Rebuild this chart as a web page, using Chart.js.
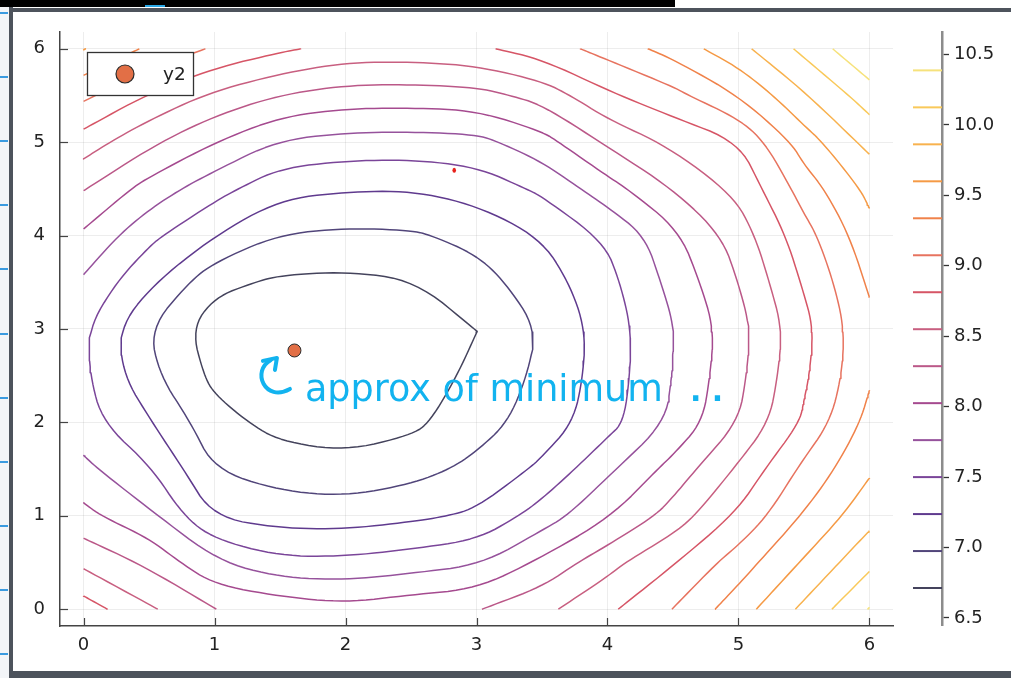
<!DOCTYPE html>
<html><head><meta charset="utf-8">
<script src="https://cdn.jsdelivr.net/npm/chart.js@4.4.1/dist/chart.umd.min.js"></script>
<style>
html,body{margin:0;padding:0;background:#fff;}
body{width:1011px;height:678px;position:relative;overflow:hidden;font-family:"DejaVu Sans",sans-serif;}
#c1{position:absolute;left:0;top:0;}
#c2{position:absolute;left:905px;top:0;}
.d{position:absolute;}
</style></head><body>
<canvas id="c1" width="905" height="678" style="width:905px;height:678px"></canvas>
<canvas id="c2" width="106" height="678" style="width:106px;height:678px"></canvas>
<div class="d" style="left:0;top:0;width:675px;height:7px;background:#000"></div>
<div class="d" style="left:145px;top:5px;width:20px;height:2px;background:#2aa8e6"></div>
<div class="d" style="left:9px;top:8px;width:1002px;height:4px;background:#4d535c"></div>
<div class="d" style="left:9px;top:7px;width:4px;height:671px;background:#4d535c"></div>
<div class="d" style="left:9px;top:671px;width:1002px;height:7px;background:#4d535c"></div>
<div class="d" style="left:0;top:7px;width:9px;height:671px;background:#f3f5f8"></div>
<div id="ticksL"></div>
<script>
// ---- data ----
const xVals = [0, 0.5, 1, 1.5, 2, 2.5, 3, 3.5, 4, 4.5, 5, 5.5, 6];
const yVals = [0, 0.5, 1, 1.5, 2, 2.5, 3, 3.5, 4, 4.5, 5, 5.5, 6];
// z values along each row y = const (x = 0 ... 6)
const z_y00 = [8.94, 8.59, 8.29, 8.20, 8.10, 8.20, 8.27, 8.48, 8.76, 9.08, 9.48, 9.92, 10.40];
const z_y05 = [8.49, 8.24, 7.79, 7.56, 7.56, 7.63, 7.71, 8.08, 8.46, 8.79, 9.21, 9.63, 10.06];
const z_y10 = [8.10, 7.82, 7.21, 7.12, 7.11, 7.18, 7.28, 7.62, 7.99, 8.40, 8.85, 9.36, 9.77];
const z_y15 = [7.83, 7.53, 6.97, 6.85, 6.79, 6.88, 7.04, 7.29, 7.71, 8.12, 8.59, 9.14, 9.56];
const z_y20 = [7.60, 7.26, 6.81, 6.62, 6.59, 6.65, 6.87, 7.09, 7.40, 7.81, 8.29, 8.85, 9.42];
const z_y25 = [7.55, 7.04, 6.65, 6.50, 6.50, 6.53, 6.79, 7.03, 7.36, 7.77, 8.22, 8.77, 9.30];
const z_y30 = [7.54, 6.98, 6.57, 6.51, 6.52, 6.54, 6.70, 7.00, 7.36, 7.75, 8.19, 8.73, 9.29];
const z_y35 = [7.72, 7.28, 6.78, 6.67, 6.65, 6.69, 6.87, 7.11, 7.42, 7.84, 8.29, 8.84, 9.36];
const z_y40 = [7.98, 7.57, 7.24, 6.96, 6.92, 6.94, 7.05, 7.25, 7.53, 7.94, 8.41, 8.97, 9.50];
const z_y45 = [8.30, 7.92, 7.60, 7.32, 7.26, 7.25, 7.34, 7.55, 7.91, 8.29, 8.60, 9.19, 9.67];
const z_y50 = [8.69, 8.34, 8.03, 7.73, 7.66, 7.65, 7.68, 7.92, 8.33, 8.60, 8.81, 9.47, 9.93];
const z_y55 = [9.13, 8.79, 8.49, 8.28, 8.17, 8.16, 8.19, 8.38, 8.77, 8.99, 9.34, 9.83, 10.26];
const z_y60 = [9.61, 9.29, 9.04, 8.86, 8.71, 8.70, 8.76, 8.94, 9.17, 9.44, 9.78, 10.19, 10.64];
const zGrid = [z_y00, z_y05, z_y10, z_y15, z_y20, z_y25, z_y30, z_y35, z_y40, z_y45, z_y50, z_y55, z_y60];
const levels = [6.7125, 6.975, 7.2375, 7.5, 7.7625, 8.025, 8.2875, 8.55, 8.8125, 9.075, 9.3375, 9.6, 9.8625, 10.125, 10.3875];
const levelColors = ['#44435c','#51457a','#5f3a8e','#7a4599','#96529c','#a54a8f','#bb5888','#c85f80',
                     '#d65566','#e7735f','#f0824a','#f59a45','#f8b24e','#f9c95a','#f6e27c'];
const xTicks = [0, 1, 2, 3, 4, 5, 6];
const yTicks = [0, 1, 2, 3, 4, 5, 6];
const cbTicks = [6.5, 7.0, 7.5, 8.0, 8.5, 9.0, 9.5, 10.0, 10.5];
const cbRange = [6.45, 10.66];
const seriesName = 'y2';
const minPoint = [{x: 1.61, y: 2.77}];
const strayDot = {x: 2.83, y: 4.70};
const noteText = 'approx of minimum';
const noteDots = '. .';
const noteAnchor = {x: 1.69, y: 2.23};

// ---- decorative left ticks of the window frame ----
(function(){
  const host = document.getElementById('ticksL');
  [12, 76, 140, 204, 268, 333, 397, 461, 525, 589, 653].forEach(t=>{
    const d=document.createElement('div'); d.className='d';
    d.style.cssText='left:0;top:'+t+'px;width:8px;height:1.5px;background:#3b9be0';
    host.appendChild(d);
  });
})();

const SX=131, SY=93.3; // approx px per unit, used only for geometric smoothing decisions

// ---- contour extraction (marching squares on the grid above) ----
function contourLines(level){
  const pts = new Map(); const segs = [];
  const ep = (key, xa, ya, za, xb, yb, zb) => {
    if(!pts.has(key)){ const t=(level-za)/(zb-za); pts.set(key,{x:xa+t*(xb-xa), y:ya+t*(yb-ya)}); }
    return key;
  };
  for(let j=0;j<yVals.length-1;j++){
    for(let i=0;i<xVals.length-1;i++){
      const x0=xVals[i], x1=xVals[i+1], y0=yVals[j], y1=yVals[j+1];
      const a=zGrid[j][i], b=zGrid[j][i+1], c=zGrid[j+1][i+1], d=zGrid[j+1][i];
      const A=a>level, B=b>level, C=c>level, D=d>level;
      const e={};
      if(A!==B) e.b=ep('h'+i+'_'+j, x0,y0,a, x1,y0,b);
      if(B!==C) e.r=ep('v'+(i+1)+'_'+j, x1,y0,b, x1,y1,c);
      if(D!==C) e.t=ep('h'+i+'_'+(j+1), x0,y1,d, x1,y1,c);
      if(A!==D) e.l=ep('v'+i+'_'+j, x0,y0,a, x0,y1,d);
      const ks=Object.keys(e);
      if(ks.length===2) segs.push([e[ks[0]], e[ks[1]]]);
      else if(ks.length===4){
        const cen=(a+b+c+d)/4>level;
        if(cen===A){ segs.push([e.b,e.r]); segs.push([e.t,e.l]); }
        else { segs.push([e.l,e.b]); segs.push([e.r,e.t]); }
      }
    }
  }
  const adj=new Map();
  segs.forEach((s,idx)=>s.forEach(k=>{ if(!adj.has(k)) adj.set(k,[]); adj.get(k).push(idx); }));
  const used=new Array(segs.length).fill(false);
  const walk=(start)=>{
    const line=[start]; let cur=start;
    for(;;){
      const cand=(adj.get(cur)||[]).find(i=>!used[i]);
      if(cand===undefined) break;
      used[cand]=true; const s=segs[cand]; const nx=s[0]===cur?s[1]:s[0];
      line.push(nx); cur=nx;
    }
    return line.map(k=>pts.get(k));
  };
  const lines=[];
  for(const [k,list] of adj){ if(list.length===1 && !used[list[0]]) lines.push(walk(k)); }
  for(let i=0;i<segs.length;i++) if(!used[i]) lines.push(walk(segs[i][0]));
  return lines.map(smoothLine);
}

// merge crossing points that sit very close together (near grid nodes),
// then round the polyline by corner cutting, keeping genuine sharp corners
function smoothLine(line){
  const closed = line.length>3 && line[0]===line[line.length-1];
  let p = (closed ? line.slice(0,-1) : line.slice()).map(o=>({x:o.x,y:o.y}));
  let i=0;
  while(p.length>(closed?4:2) && i<p.length-(closed?0:1)){
    const j=(i+1)%p.length, a=p[i], b=p[j];
    if(Math.hypot((a.x-b.x)*SX,(a.y-b.y)*SY)<17){
      if(!closed && i===0){ p.splice(j,1); }
      else if(!closed && j===p.length-1){ p.splice(i,1); }
      else { p[i]={x:(a.x+b.x)/2,y:(a.y+b.y)/2}; p.splice(j,1); if(j<i) i--; }
      continue;
    }
    i++;
  }
  const cosLim=Math.cos(68*Math.PI/180);
  for(let it=0; it<3; it++){
    const n=p.length;
    const corner=p.map((q,k)=>{
      if(!closed && (k===0||k===n-1)) return true;
      const a=p[(k-1+n)%n], c=p[(k+1)%n];
      const v1x=(q.x-a.x)*SX, v1y=(q.y-a.y)*SY, v2x=(c.x-q.x)*SX, v2y=(c.y-q.y)*SY;
      const cs=(v1x*v2x+v1y*v2y)/(Math.hypot(v1x,v1y)*Math.hypot(v2x,v2y)+1e-9);
      return cs<cosLim;
    });
    const out=[]; const m=closed?n:n-1;
    for(let k=0;k<m;k++){
      const a=p[k], b=p[(k+1)%n];
      if(corner[k]) out.push(a);
      out.push({x:0.75*a.x+0.25*b.x, y:0.75*a.y+0.25*b.y});
      out.push({x:0.25*a.x+0.75*b.x, y:0.25*a.y+0.75*b.y});
    }
    if(!closed) out.push(p[n-1]);
    p=out;
  }
  if(closed) p.push(p[0]);
  return p;
}

Chart.defaults.font.family = '"DejaVu Sans", sans-serif';
Chart.defaults.color = '#222';

const datasets = [{
  label: seriesName, data: minPoint, showLine:false,
  pointRadius: 6.5, pointBackgroundColor:'#e26f46', pointBorderColor:'#2a2a2a', pointBorderWidth:1
}];
levels.forEach((lv,i)=>{
  contourLines(lv).forEach(line=>{
    datasets.push({label:'c'+i, data:line, showLine:true, borderColor:levelColors[i],
      borderWidth:1.5, pointRadius:0, tension:0, fill:false, borderJoinStyle:'round'});
  });
});

const overlay = {
  id:'overlay',
  afterDraw(chart){
    const {ctx, chartArea:a, scales:{x,y}} = chart;
    ctx.save();
    ctx.strokeStyle='#444'; ctx.lineWidth=1.2;
    xTicks.forEach(v=>{ const p=Math.round(x.getPixelForValue(v))+0.5;
      ctx.beginPath(); ctx.moveTo(p,a.bottom); ctx.lineTo(p,a.bottom-8); ctx.stroke(); });
    yTicks.forEach(v=>{ const p=Math.round(y.getPixelForValue(v))+0.5;
      ctx.beginPath(); ctx.moveTo(a.left,p); ctx.lineTo(a.left+8,p); ctx.stroke(); });
    // legend
    const lx=a.left+27, ly=a.top+20, lw=106, lh=43;
    ctx.fillStyle='#fff'; ctx.fillRect(lx,ly,lw,lh);
    ctx.strokeStyle='#333'; ctx.lineWidth=1.3; ctx.strokeRect(lx+0.5,ly+0.5,lw,lh);
    ctx.beginPath(); ctx.arc(lx+38, ly+22, 9, 0, Math.PI*2);
    ctx.fillStyle='#e26f46'; ctx.fill(); ctx.strokeStyle='#2a2a2a'; ctx.lineWidth=1.2; ctx.stroke();
    ctx.fillStyle='#222'; ctx.font='18.5px "DejaVu Sans"'; ctx.textBaseline='middle'; ctx.textAlign='left';
    ctx.fillText(seriesName, lx+76, ly+23);
    // stray red dot
    ctx.fillStyle='#e8211b'; ctx.beginPath();
    ctx.ellipse(x.getPixelForValue(strayDot.x), y.getPixelForValue(strayDot.y), 1.8, 2.6, 0, 0, Math.PI*2); ctx.fill();
    // handwritten note
    const ox=x.getPixelForValue(noteAnchor.x), oy=y.getPixelForValue(noteAnchor.y);
    ctx.strokeStyle='#12b3ef'; ctx.fillStyle='#12b3ef'; ctx.lineWidth=4; ctx.lineCap='round'; ctx.lineJoin='round';
    ctx.beginPath(); ctx.moveTo(ox-15, oy-12);
    ctx.bezierCurveTo(ox-40, oy+2, ox-54, oy-30, ox-34, oy-41); ctx.stroke();
    ctx.beginPath(); ctx.moveTo(ox-42, oy-40); ctx.lineTo(ox-28, oy-43); ctx.lineTo(ox-30, oy-31); ctx.stroke();
    ctx.font='38px "DejaVu Sans"'; ctx.textBaseline='alphabetic'; ctx.textAlign='left';
    ctx.fillText(noteText, ox, oy, 358);
    ctx.font='bold 30px "DejaVu Sans"';
    ctx.fillText(noteDots, ox+385, oy);
    ctx.restore();
  }
};

new Chart(document.getElementById('c1'), {
  type:'scatter',
  data:{datasets},
  options:{
    responsive:false, animation:false, devicePixelRatio:1, events:[],
    layout:{padding:{left:0, right:12, top:32, bottom:0}},
    plugins:{legend:{display:false}, tooltip:{enabled:false}},
    scales:{
      x:{type:'linear', min:-0.18, max:6.18,
        afterBuildTicks:s=>{ s.ticks=xTicks.map(v=>({value:v})); },
        afterFit:s=>{ s.height=52; },
        grid:{color:'rgba(0,0,0,0.07)', lineWidth:1, drawTicks:false},
        border:{display:true, color:'#444', width:1.5},
        ticks:{font:{size:18}, color:'#222', padding:9, callback:v=>String(v)}},
      y:{type:'linear', min:-0.18, max:6.18,
        afterBuildTicks:s=>{ s.ticks=yTicks.map(v=>({value:v})); },
        afterFit:s=>{ s.width=60; },
        grid:{color:'rgba(0,0,0,0.07)', lineWidth:1, drawTicks:false},
        border:{display:true, color:'#444', width:1.5},
        ticks:{font:{size:18}, color:'#222', padding:15, callback:v=>String(v)}}
    }
  },
  plugins:[overlay]
});

new Chart(document.getElementById('c2'), {
  type:'scatter',
  data:{datasets: levels.map((lv,i)=>({label:'L'+i, data:[{x:0,y:lv},{x:1,y:lv}], showLine:true,
    borderColor:levelColors[i], borderWidth:2, pointRadius:0}))},
  options:{
    responsive:false, animation:false, devicePixelRatio:1, events:[],
    layout:{padding:{left:8, right:0, top:32, bottom:53}},
    plugins:{legend:{display:false}, tooltip:{enabled:false}},
    scales:{
      x:{type:'linear', min:0, max:1, display:false},
      y:{type:'linear', position:'right', min:cbRange[0], max:cbRange[1],
        afterBuildTicks:s=>{ s.ticks=cbTicks.map(v=>({value:v})); },
        afterFit:s=>{ s.width=69; },
        grid:{drawOnChartArea:false, drawTicks:true, tickLength:7, tickColor:'#333', tickWidth:1.3},
        border:{display:true, color:'#8c8c8c', width:2.5},
        ticks:{font:{size:18}, color:'#222', padding:5, callback:v=>v.toFixed(1)}}
    }
  }
});
</script>
</body></html>
